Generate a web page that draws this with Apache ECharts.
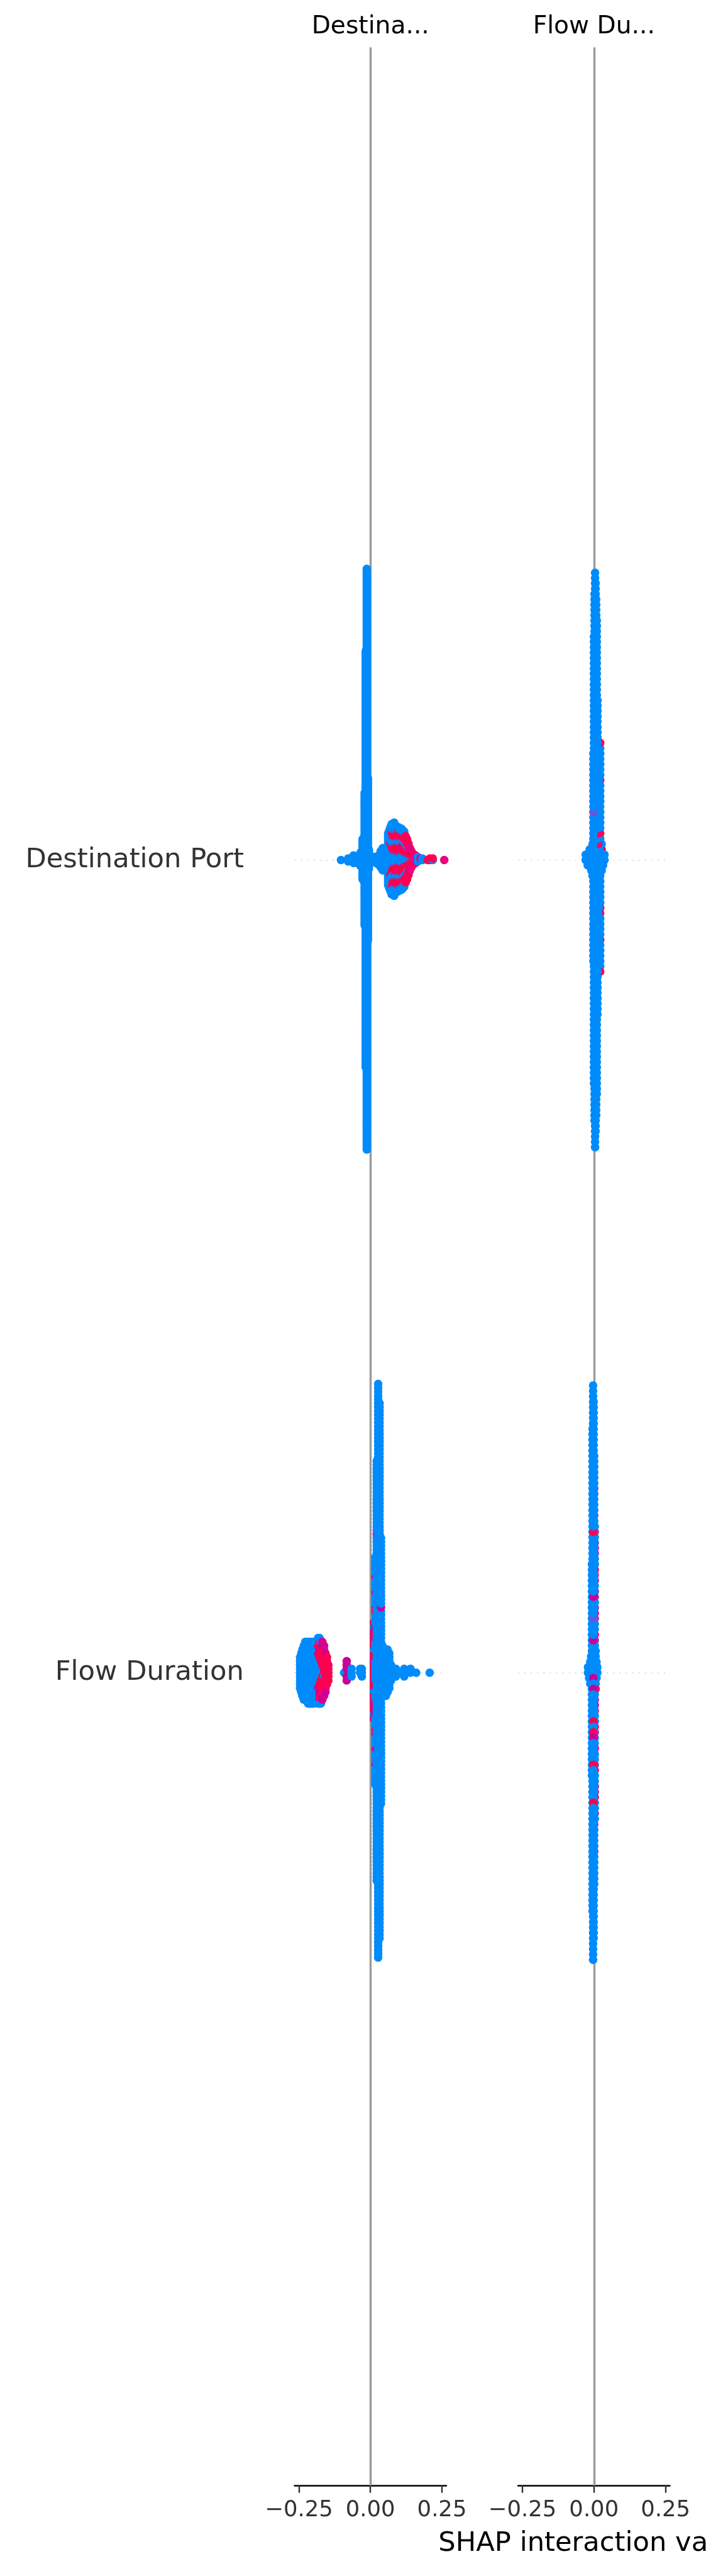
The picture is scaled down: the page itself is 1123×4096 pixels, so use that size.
<!DOCTYPE html>
<html>
<head>
<meta charset="utf-8">
<script src="https://cdn.jsdelivr.net/npm/echarts@6/dist/echarts.min.js"></script>
<style>
html,body{margin:0;padding:0;background:#fff;}
#chart{width:1123px;height:4096px;}
</style>
</head>
<body>
<div id="chart"></div>
<script>
// ---------------- data ----------------
const panelTitles = ['Destina...', 'Flow Du...'];
const rowLabels = ['Destination Port', 'Flow Duration'];
const rowPositions = [1, 0];
const tickValues = [-0.25, 0, 0.25];
const tickLabels = ['\u22120.25', '0.00', '0.25'];
const xLimit = [-0.265, 0.265];
const yLimit = [-1, 2];
const xAxisTitle = 'SHAP interaction value';

// each entry: [SHAP interaction value, count, feature value (0 low .. 1 high), count, feature value, ...]
const dpRowLeft = [
  [-0.103, 1,0], [-0.078, 3,0], [-0.059, 6,0], [-0.047, 5,0], [-0.0344, 10,0],
  [-0.0272, 28,0], [-0.0236, 30,0], [-0.0200, 90,0], [-0.0164, 280,0], [-0.0128, 390,0],
  [-0.0091, 110,0], [-0.0055, 14,0],
  [0.006, 4,0], [0.013, 4,0], [0.020, 5,0], [0.028, 7,0], [0.036, 12,0], [0.043, 16,0],
  [0.050, 10,0], [0.056, 5,0],
  [0.062, 36,0], [0.066, 40,0],
  [0.070, 20,0, 4,1, 20,0],
  [0.074, 16,0, 6,1, 14,0, 4,1, 8,0],
  [0.078, 12,0, 8,1, 10,0, 8,1, 10,0],
  [0.083, 10,0, 10,1, 8,0, 10,1, 12,0],
  [0.088, 10,0, 12,1, 6,0, 10,1, 8,0],
  [0.093, 10,0, 12,1, 6,0, 10,1, 6,0],
  [0.098, 8,0, 14,1, 6,0, 12,1, 4,0],
  [0.103, 8,0, 14,1, 6,0, 10,1, 4,0],
  [0.108, 10,0, 12,1, 6,0, 10,1, 4,0],
  [0.113, 10,0, 14,1, 4,0, 8,1, 4,0],
  [0.118, 8,0, 14,1, 4,0, 8,1, 4,0],
  [0.123, 8,0, 12,1, 4,0, 8,1],
  [0.128, 6,0, 10,1, 4,0, 8,1],
  [0.133, 6,0, 8,1, 2,0, 6,1],
  [0.138, 4,0, 8,1, 4,0.8],
  [0.143, 4,0, 6,1, 2,0.8],
  [0.150, 2,0, 4,0.8, 2,1],
  [0.158, 2,0, 4,0.8],
  [0.166, 2,0.8, 2,0],
  [0.175, 1,0, 1,0.8],
  [0.182, 2,0],
  [0.200, 1,1],
  [0.208, 2,1],
  [0.218, 1,0, 1,1],
  [0.258, 1,0.8]
];

const dpRowRight = [
  [0.022, 5,0, 1,1, 3,0, 1,1, 8,0, 1,1, 1,0, 1,1, 8,0, 2,1, 11,0, 2,1],
  [0.027, 3,0, 1,1, 2,0],
  [0.032, 3,0],
  [0.037, 2,0],
  [-0.029, 2,0], [-0.022, 3,0], [-0.015, 4,0], [-0.009, 5,0], [-0.005, 7,0],
  [0.000, 85,0], [0.002, 100,0], [0.004, 109,0], [0.006, 104,0], [0.008, 98,0], [0.010, 90,0],
  [0.018, 9,0, 1,1, 10,0, 1,1, 12,0],
  [0.0125, 29,0, 1,1, 30,0],
  [0.015, 5,0, 1,0.9, 3,0, 1,1, 20,0],
  [-0.002, 17,0, 1,0.3, 22,0]
];

const fdRowLeft = [
  [-0.246, 9,0], [-0.242, 11,0], [-0.238, 13,0], [-0.233, 15,0], [-0.228, 16,0],
  [-0.223, 16,0], [-0.218, 17,0], [-0.213, 17,0], [-0.208, 17,0], [-0.203, 17,0],
  [-0.198, 17,0], [-0.193, 16,0], [-0.188, 16,0],
  [-0.183, 8,0, 2,0.65, 3,0, 1,1, 4,0],
  [-0.178, 6,0, 4,1, 2,0.6, 4,1, 2,0],
  [-0.173, 4,0, 6,1, 1,0.6, 4,1, 2,0],
  [-0.168, 2,0, 10,1, 4,0.7],
  [-0.162, 2,1, 1,0, 9,1, 2,0.7],
  [-0.157, 9,1, 2,0.7],
  [-0.152, 8,1],
  [-0.147, 5,1],
  [-0.092, 1,0], [-0.083, 1,0, 5,0.65], [-0.066, 3,0], [-0.036, 2,0], [-0.030, 3,0],
  [0.012, 4,1, 2,0.7, 4,1, 2,0, 4,1, 2,0.7, 4,1, 2,0, 2,1],
  [0.017, 6,0, 4,1, 6,0, 4,1, 4,0.7, 6,0, 4,1, 6,0, 2,1, 6,0, 2,1, 10,0],
  [0.022, 40,0, 1,0.7, 30,0, 1,1, 38,0],
  [0.027, 150,0],
  [0.032, 140,0],
  [0.037, 33,0, 1,0.65, 36,0],
  [0.042, 14,0], [0.048, 13,0], [0.054, 13,0], [0.060, 12,0], [0.066, 10,0],
  [0.072, 5,0], [0.078, 3,0], [0.089, 3,0], [0.100, 1,0], [0.118, 3,0],
  [0.140, 2,0], [0.160, 1,0], [0.207, 1,0]
];

const fdRowRight = [
  [0.003, 3,0, 2,0.65, 3,1, 2,0, 3,0.65, 2,1, 4,0, 2,1, 3,0.65, 3,0, 2,1, 4,0, 2,0.65, 3,1, 4,0, 2,0.65, 3,1, 4,0, 2,1, 2,0],
  [0.001, 6,0, 2,1, 4,0, 2,0.65, 6,0, 2,1, 6,0, 2,0.65, 6,0, 2,1, 8,0, 2,0.65, 8,0, 2,1, 8,0, 2,0.65, 12,0],
  [-0.021, 2,0], [-0.017, 3,0], [-0.013, 5,0], [-0.010, 6,0],
  [0.006, 6,0, 1,1, 1,0], [0.009, 4,0], [0.012, 2,0],
  [-0.007, 40,0], [-0.005, 90,0], [-0.003, 107,0],
  [-0.001, 27,0, 1,0.65, 72,0],
  [-0.002, 2,0, 1,0.65, 3,0, 1,0.65, 4,0, 1,0.65, 6,0, 1,1, 1,0.3, 2,0, 1,1, 1,0, 1,0.65, 2,0, 1,0.65, 6,0, 1,1, 13,0, 1,1, 2,0, 1,1, 48,0]
];

// ---------------- shap red_blue colour map (Lch) ----------------
function lch2rgb(l, c, h) {
  const a = c * Math.cos(h), b = c * Math.sin(h);
  const fy = (l + 16) / 116, fx = fy + a / 500, fz = fy - b / 200;
  const finv = t => t > 6 / 29 ? t * t * t : 3 * (6 / 29) * (6 / 29) * (t - 4 / 29);
  const X = 0.95047 * finv(fx), Y = finv(fy), Z = 1.08883 * finv(fz);
  const r = 3.2404542 * X - 1.5371385 * Y - 0.4985314 * Z;
  const g = -0.9692660 * X + 1.8760108 * Y + 0.0415560 * Z;
  const bb = 0.0556434 * X - 0.2040259 * Y + 1.0572252 * Z;
  const gam = v => v <= 0.0031308 ? 12.92 * v : 1.055 * Math.pow(v, 1 / 2.4) - 0.055;
  return [r, g, bb].map(v => Math.min(1, Math.max(0, gam(v))) * 255);
}
const cmapTable = (function () {
  const blue = [54, 70, 4.6588], red = [54, 90, 0.35470565 + 2 * Math.PI], lMid = 40, n = 100;
  const t = [];
  for (let i = 0; i < n; i++) {
    const l = i < 50 ? blue[0] + (lMid - blue[0]) * i / 49 : lMid + (red[0] - lMid) * (i - 50) / 49;
    const c = blue[1] + (red[1] - blue[1]) * i / (n - 1);
    const h = blue[2] + (red[2] - blue[2]) * i / (n - 1);
    t.push(lch2rgb(l, c, h));
  }
  return t;
})();
function cmap(v) {
  const p = Math.min(1, Math.max(0, v)) * (cmapTable.length - 1);
  const i0 = Math.floor(p), i1 = Math.min(cmapTable.length - 1, i0 + 1), f = p - i0;
  const c = [0, 1, 2].map(k => Math.round(cmapTable[i0][k] * (1 - f) + cmapTable[i1][k] * f));
  return 'rgb(' + c.join(',') + ')';
}

// ---------------- shap beeswarm layout ----------------
function beeswarm(bins, rowPos) {
  const pts = [];
  bins.forEach(b => {
    for (let k = 1; k < b.length; k += 2)
      for (let j = 0; j < b[k]; j++) pts.push({ x: b[0], c: b[k + 1] });
  });
  let mn = Infinity, mx = -Infinity;
  pts.forEach(p => { mn = Math.min(mn, p.x); mx = Math.max(mx, p.x); });
  const nbins = 100;
  pts.forEach((p, i) => { p.q = Math.round(nbins * (p.x - mn) / (mx - mn + 1e-8)); p.i = i; });
  const order = pts.slice().sort((a, b) => a.q - b.q || a.i - b.i);
  let layer = 0, last = -1;
  order.forEach(p => {
    if (p.q !== last) layer = 0;
    p.ys = Math.ceil(layer / 2) * ((layer % 2) * 2 - 1);
    layer++; last = p.q;
  });
  let maxY = -Infinity;
  pts.forEach(p => { maxY = Math.max(maxY, p.ys + 1); });
  const scale = 0.9 * 0.4 / maxY;
  return pts.map(p => ({ value: [p.x, rowPos + p.ys * scale, p.c], itemStyle: { color: cmap(p.c) } }));
}

// ---------------- chart ----------------
const S = 0.808;
const gridTop = 93 * S, gridBottom = 4891 * S;
const gridLefts = [580 * S, 1020 * S];
const gridWidth = 298.5 * S;
const dotSize = 16.7 * S;

const cells = [
  { bins: dpRowLeft, row: rowPositions[0], grid: 0 },
  { bins: fdRowLeft, row: rowPositions[1], grid: 0 },
  { bins: dpRowRight, row: rowPositions[0], grid: 1 },
  { bins: fdRowRight, row: rowPositions[1], grid: 1 }
];

const series = cells.map(cell => ({
  type: 'scatter',
  xAxisIndex: cell.grid, yAxisIndex: cell.grid,
  symbol: 'circle', symbolSize: dotSize,
  data: beeswarm(cell.bins, cell.row),
  itemStyle: { opacity: 1, borderWidth: 0 },
  silent: true, z: 3, progressive: 0, large: false,
  emphasis: { disabled: true }
}));
[0, 1].forEach(g => series.push({
  type: 'scatter', xAxisIndex: g, yAxisIndex: g, data: [], silent: true, z: 1,
  markLine: {
    silent: true, symbol: ['none', 'none'], z: 1, animation: false,
    label: { show: false },
    lineStyle: { color: '#999999', width: 4.17 * S, type: 'solid' },
    emphasis: { disabled: true },
    data: [{ xAxis: 0 }]
  }
}));

const fmtTick = v => {
  const i = tickValues.findIndex(t => Math.abs(t - v) < 1e-9);
  return i >= 0 ? tickLabels[i] : '';
};

const option = {
  animation: false,
  backgroundColor: '#ffffff',
  title: panelTitles.map((t, g) => ({
    text: t, left: gridLefts[g] + gridWidth / 2, top: 23, textAlign: 'center', padding: 0,
    textStyle: { fontSize: 48.5 * S, fontWeight: 'normal', color: '#000000', fontFamily: 'DejaVu Sans', lineHeight: 40 }
  })),
  grid: gridLefts.map(l => ({
    left: l, top: gridTop, width: gridWidth, height: gridBottom - gridTop,
    containLabel: false, outerBoundsMode: 'none'
  })),
  xAxis: [0, 1].map(g => ({
    gridIndex: g, type: 'value', min: xLimit[0], max: xLimit[1],
    axisLine: { show: true, onZero: false, lineStyle: { color: '#000000', width: 3.3 * S } },
    axisTick: { show: true, customValues: tickValues, length: 14.6 * S, lineStyle: { color: '#333333', width: 3 * S } },
    axisLabel: { show: true, customValues: tickValues, formatter: fmtTick, fontSize: 43.8 * S, color: '#333333', fontFamily: 'DejaVu Sans', margin: 22 },
    splitLine: { show: false },
    name: g === 1 ? xAxisTitle : '', nameLocation: 'middle', nameGap: 71,
    nameTextStyle: { fontSize: 53.5 * S, color: '#000000', fontFamily: 'DejaVu Sans' }
  })),
  yAxis: [0, 1].map(g => ({
    gridIndex: g, type: 'value', min: yLimit[0], max: yLimit[1], interval: 1,
    axisLine: { show: false }, axisTick: { show: false },
    axisLabel: {
      show: g === 0, margin: 100 * S, fontSize: 53.5 * S, color: '#333333', fontFamily: 'DejaVu Sans',
      formatter: v => { const i = rowPositions.indexOf(v); return i >= 0 ? rowLabels[i] : ''; }
    },
    splitLine: { show: true, showMinLine: false, showMaxLine: false, lineStyle: { color: '#cccccc', width: 2.08 * S, type: [2.08 * S, 10.4 * S] } }
  })),
  series: series
};

const chart = echarts.init(document.getElementById('chart'), null, { renderer: 'canvas', width: 1123, height: 4096 });
chart.setOption(option);
</script>
</body>
</html>
